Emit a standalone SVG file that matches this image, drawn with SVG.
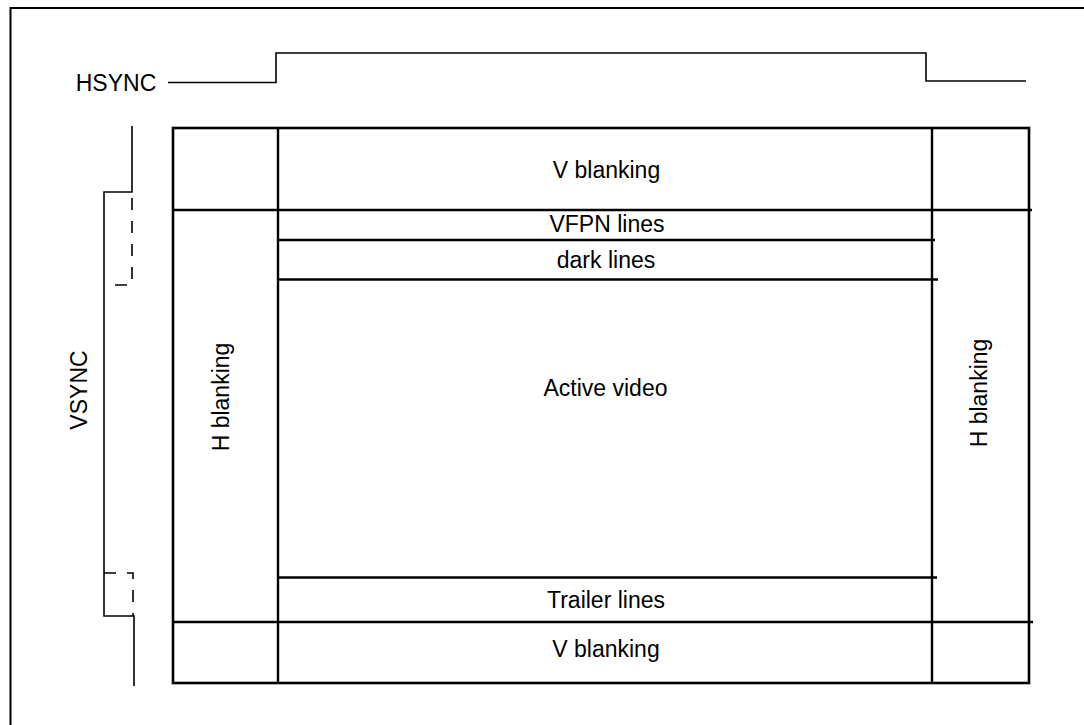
<svg xmlns="http://www.w3.org/2000/svg" width="1084" height="725" viewBox="0 0 1084 725">
<style>
.t{font-family:"Liberation Sans",Arial,sans-serif;font-size:23px;fill:#000;text-anchor:middle}
.box{fill:none;stroke:#000;stroke-width:2.6}
.ln{fill:none;stroke:#000;stroke-width:2.4}
.sig{fill:none;stroke:#000;stroke-width:1.6}
.dash{fill:none;stroke:#000;stroke-width:1.6;stroke-dasharray:12 11}
</style>
<rect width="1084" height="725" fill="#fff"/>
<g id="frame"><path d="M10.5,725 V8 H1084" fill="none" stroke="#000" stroke-width="2"/></g>
<g id="hsync">
<text class="t" x="116" y="91">HSYNC</text>
<path class="sig" d="M168,82.5 H276 V53 H926 V81 H1026"/>
</g>
<g id="vsync">
<text class="t" transform="translate(86.5,390) rotate(-90)">VSYNC</text>
<path class="sig" d="M132,126 V192 H104 V616 H134 V686"/>
<path class="dash" d="M132,192 V285 H104" stroke-dashoffset="-6"/>
<path class="dash" d="M104,573 H133 V616"/>
</g>
<g id="connectors">
<rect class="box" x="173" y="128" width="856" height="555"/>
<path class="ln" d="M278,128 V683 M932,128 V683"/>
<path class="ln" d="M173,210 H1032"/>
<path class="ln" d="M277,240 H935"/>
<path class="ln" d="M279,279.5 H938"/>
<path class="ln" d="M277,577.5 H937"/>
<path class="ln" d="M173,622 H1033"/>
</g>
<g id="vblank-top"><text class="t" x="606.5" y="178">V blanking</text></g>
<g id="vfpn"><text class="t" x="607" y="231.5">VFPN lines</text></g>
<g id="dark"><text class="t" x="606" y="268">dark lines</text></g>
<g id="active"><text class="t" x="605.5" y="396">Active video</text></g>
<g id="trailer"><text class="t" x="606" y="608">Trailer lines</text></g>
<g id="vblank-bottom"><text class="t" x="606" y="657">V blanking</text></g>
<g id="hblank-left"><text class="t" transform="translate(229,397) rotate(-90)">H blanking</text></g>
<g id="hblank-right"><text class="t" transform="translate(987,393) rotate(-90)">H blanking</text></g>
</svg>
